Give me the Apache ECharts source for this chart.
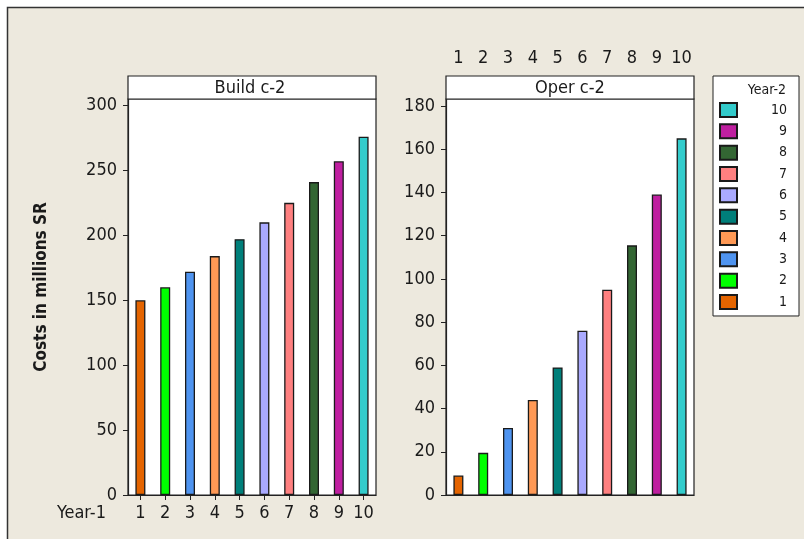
<!DOCTYPE html>
<html>
<head>
<meta charset="utf-8">
<script src="https://cdn.jsdelivr.net/npm/echarts@6/dist/echarts.min.js"></script>
<style>
html,body{margin:0;padding:0;background:#fff;}
#chart{width:804px;height:539px;}
</style>
</head>
<body>
<div id="chart"></div>
<script>
// ---- data ----
const categories = ['1', '2', '3', '4', '5', '6', '7', '8', '9', '10'];
const buildValues = [150, 160, 172, 184, 197, 210, 225, 241, 257, 276];
const operValues = [9, 19.5, 31, 44, 59, 76, 95, 115.5, 139, 165];
const buildTicks = [0, 50, 100, 150, 200, 250, 300];
const operTicks = [0, 20, 40, 60, 80, 100, 120, 140, 160, 180];
const panelTitles = ['Build c-2', 'Oper c-2'];
const yAxisTitle = 'Costs in millions SR';
const xAxisTitle = 'Year-1';
const legendTitle = 'Year-2';

// ---- styles ----
const yearColors = ['#E46400', '#00FF00', '#4F94F0', '#FF9955', '#007F7A',
                    '#AAAAFF', '#FF8080', '#336633', '#BF1FA0', '#33CCCC'];
const FONT = 'DejaVu Sans Condensed, DejaVu Sans, sans-serif';
const TXT = '#1a1a1a';

const chart = echarts.init(document.getElementById('chart'), null, {renderer: 'canvas'});

const series = [];
categories.forEach((name, k) => {
  series.push({
    name: name, type: 'bar', xAxisIndex: 0, yAxisIndex: 0,
    barWidth: 10, barGap: '-100%',
    itemStyle: {color: yearColors[k], borderColor: '#1a1a1a', borderWidth: 1.3},
    data: buildValues.map((v, i) => (i === k ? v : '-'))
  });
  series.push({
    name: name, type: 'bar', xAxisIndex: 1, yAxisIndex: 1,
    barWidth: 10, barGap: '-100%',
    itemStyle: {color: yearColors[k], borderColor: '#1a1a1a', borderWidth: 1.3},
    data: operValues.map((v, i) => (i === k ? v : '-'))
  });
});

const axisLabelStyle = {color: TXT, fontFamily: FONT, fontSize: 18};

const option = {
  backgroundColor: '#ffffff',
  animation: false,
  textStyle: {fontFamily: FONT},
  grid: [
    {left: 128, top: 99, width: 248, height: 396, show: true, backgroundColor: '#fff', borderColor: '#222', borderWidth: 1.2},
    {left: 446, top: 99, width: 248, height: 396, show: true, backgroundColor: '#fff', borderColor: '#222', borderWidth: 1.2}
  ],
  xAxis: [
    {
      type: 'category', gridIndex: 0, data: categories, position: 'bottom',
      axisLine: {show: true, lineStyle: {color: '#222', width: 1.2}},
      axisTick: {show: true, alignWithLabel: true, length: 5, lineStyle: {color: '#222'}},
      axisLabel: Object.assign({margin: 9, interval: 0}, axisLabelStyle),
      splitLine: {show: false}
    },
    {
      type: 'category', gridIndex: 1, data: categories, position: 'top', offset: 23,
      axisLine: {show: true, lineStyle: {color: '#222', width: 1.2}},
      axisTick: {show: true, alignWithLabel: true, length: 6, lineStyle: {color: '#222'}},
      axisLabel: Object.assign({margin: 9, interval: 0}, axisLabelStyle),
      splitLine: {show: false}
    }
  ],
  yAxis: [
    {
      type: 'value', gridIndex: 0, min: 0, max: 305,
      axisLine: {show: true, lineStyle: {color: '#222', width: 1.2}},
      axisTick: {show: true, length: 5, customValues: buildTicks, lineStyle: {color: '#222'}},
      axisLabel: Object.assign({margin: 11, customValues: buildTicks}, axisLabelStyle),
      splitLine: {show: false},
      name: yAxisTitle, nameLocation: 'middle', nameGap: 78, nameRotate: 90,
      nameTextStyle: {color: TXT, fontFamily: FONT, fontSize: 17, fontWeight: 'bold', padding: [0, 0, 0, 20]}
    },
    {
      type: 'value', gridIndex: 1, min: 0, max: 183.2,
      axisLine: {show: true, lineStyle: {color: '#222', width: 1.2}},
      axisTick: {show: true, length: 5, customValues: operTicks, lineStyle: {color: '#222'}},
      axisLabel: Object.assign({margin: 11, customValues: operTicks}, axisLabelStyle),
      splitLine: {show: false}
    }
  ],
  legend: {
    orient: 'vertical', left: 713, top: 76,
    data: categories.slice().reverse(),
    selectedMode: false,
    itemWidth: 17, itemHeight: 14, itemGap: 5.33,
    padding: [26, 12, 6, 6],
    borderColor: '#222', borderWidth: 1, backgroundColor: '#fff',
    icon: 'rect',
    formatter: '{a|{name}}',
    textStyle: {
      color: TXT, fontFamily: FONT, fontSize: 14,
      rich: {a: {width: 45, align: 'right', fontSize: 14, lineHeight: 14, fontFamily: FONT, color: TXT}}
    }
  },
  graphic: [
    {type: 'rect', z: -100, silent: true, shape: {x: 7, y: 7, width: 797, height: 532}, style: {fill: '#EDE9DE'}},
    {type: 'polyline', z: -99, silent: true, shape: {points: [[7.5, 539], [7.5, 7.5], [804, 7.5]]}, style: {stroke: '#333', lineWidth: 1.5, fill: null}},
    {type: 'rect', z: 10, silent: true, shape: {x: 128, y: 76, width: 248, height: 23}, style: {fill: '#fff', stroke: '#222', lineWidth: 1.2}},
    {type: 'text', z: 11, silent: true, x: 250, y: 88, style: {text: panelTitles[0], fill: TXT, font: '18px ' + FONT, textAlign: 'center', textVerticalAlign: 'middle'}},
    {type: 'rect', z: 10, silent: true, shape: {x: 446, y: 76, width: 248, height: 23}, style: {fill: '#fff', stroke: '#222', lineWidth: 1.2}},
    {type: 'text', z: 11, silent: true, x: 570, y: 88, style: {text: panelTitles[1], fill: TXT, font: '18px ' + FONT, textAlign: 'center', textVerticalAlign: 'middle'}},
    {type: 'text', z: 200, silent: true, x: 786, y: 90, style: {text: legendTitle, fill: TXT, font: '14px ' + FONT, textAlign: 'right', textVerticalAlign: 'middle'}},
    {type: 'text', z: 200, silent: true, x: 106, y: 513, style: {text: xAxisTitle, fill: TXT, font: '18px ' + FONT, textAlign: 'right', textVerticalAlign: 'middle'}}
  ],
  series: series
};
chart.setOption(option);
</script>
</body>
</html>
